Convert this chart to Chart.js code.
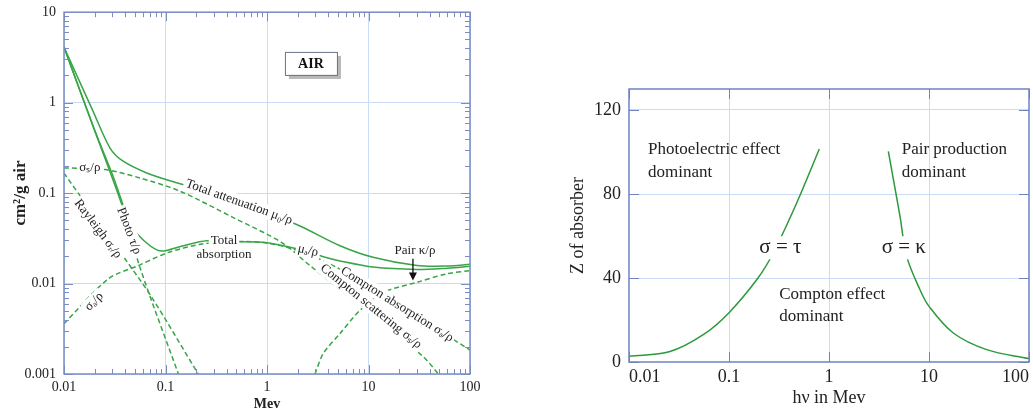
<!DOCTYPE html>
<html>
<head>
<meta charset="utf-8">
<script src="https://cdn.jsdelivr.net/npm/chart.js@4.4.1/dist/chart.umd.min.js"></script>
<style>
  html, body { margin: 0; padding: 0; background: #fff; }
  #wrap { position: relative; width: 1033px; height: 414px; overflow: hidden; }
  .box { position: absolute; top: 0; height: 414px; }
  #left { left: 0; width: 500px; }
  #right { left: 520px; width: 513px; }
</style>
</head>
<body>
<div id="wrap">
  <div class="box" id="left"><canvas id="graficoAire"></canvas></div>
  <div class="box" id="right"><canvas id="graficoZonas"></canvas></div>
</div>
<script>
// ---- panel izquierdo: coeficientes en aire (cm2/g) vs energia (MeV) ----
const decadasE = [0.01, 0.1, 1, 10, 100];
const decadasMu = [0.001, 0.01, 0.1, 1, 10];

const energiaAten = [0.01, 0.0194, 0.0284, 0.0383, 0.0653, 0.129, 0.54, 2.11, 5.24, 11.1, 30, 60, 100];
const muAten = [4.12, 0.796, 0.315, 0.225, 0.167, 0.130, 0.0817, 0.0433, 0.0262, 0.0195, 0.0158, 0.0156, 0.0163];

const energiaAbs = [0.01, 0.02, 0.03, 0.038, 0.0447, 0.0614, 0.082, 0.1, 0.15, 0.255, 0.542, 0.92, 1.45, 2.54, 3.59, 5.24, 11.1, 30, 60, 100];
const muAbs = [4.12, 0.50, 0.16, 0.075, 0.045, 0.0297, 0.0236, 0.0231, 0.0262, 0.0297, 0.029, 0.0286, 0.0262, 0.0225, 0.0198, 0.0178, 0.0152, 0.0143, 0.0148, 0.0155];

const energiaFoto = [0.01, 0.0194, 0.037, 0.056, 0.134];
const tauFoto = [4.12, 0.54, 0.0751, 0.0151, 0.001];

const energiaRay = [0.01, 0.040, 0.0731, 0.210];
const sigmaRay = [0.166, 0.0187, 0.00707, 0.001];

const energiaSs = [0.01, 0.0254, 0.056, 0.139, 0.466, 1.40, 2.65, 10.4, 34.7, 48.8];
const sigmaS = [0.19, 0.182, 0.147, 0.105, 0.0536, 0.0284, 0.0158, 0.0047, 0.00155, 0.001];

const energiaSa = [0.01, 0.0274, 0.054, 0.107, 0.228, 0.5, 1.0, 2.0, 4.86, 20.4, 100];
const sigmaA = [0.0036, 0.0113, 0.0158, 0.0221, 0.0273, 0.0292, 0.0280, 0.0232, 0.0151, 0.0057, 0.00184];

const energiaPar = [2.97, 3.59, 5.24, 8.24, 14.0, 29.9, 58.9, 100];
const kappaPar = [0.001, 0.00169, 0.0028, 0.00505, 0.0080, 0.0103, 0.0128, 0.0139];

// ---- panel derecho: Z del absorbente vs h nu ----
const ticksZ = [0, 40, 80, 120];
const energiaTau = [0.01, 0.0257, 0.0553, 0.1, 0.195, 0.277, 0.475, 0.80];
const zTau = [2.7, 5.0, 13.0, 23.5, 40, 51.9, 75.7, 101.4];
const energiaKappa = [3.92, 5.13, 5.98, 8.13, 10, 17.5, 37.7, 100];
const zKappa = [100.3, 69.3, 50.3, 34.4, 26.5, 13.8, 5.9, 1.6];

const serif = "'Liberation Serif', 'Times New Roman', serif";
const verdeIzq = '#38a547';
const verdeDer = '#2b9a39';
const rejilla = '#cadcf5';
const bordeAzul = '#7b8cc4';

function serie(xs, ys) {
    return xs.map((x, i) => ({ x: x, y: ys[i] }));
}
function esDecada(v) {
    const l = Math.log10(v);
    return Math.abs(l - Math.round(l)) < 1e-6;
}
function ticksLog(decadas) {
    const t = [];
    for (let i = 0; i < decadas.length - 1; i++) {
        for (let k = 1; k < 10; k++) t.push({ value: k * decadas[i] });
    }
    t.push({ value: decadas[decadas.length - 1] });
    return t;
}

// marco con marcas hacia adentro en los cuatro lados
function crearMarco(color, mayor, menor) {
    return {
        id: 'marco',
        afterDraw(chart) {
            const { ctx, chartArea: a, scales: { x, y } } = chart;
            ctx.save();
            ctx.strokeStyle = color;
            ctx.lineWidth = 1;
            ctx.beginPath();
            x.ticks.forEach(t => {
                const L = (x.type === 'linear' || esDecada(t.value)) ? mayor : menor;
                if (!L) return;
                const px = Math.round(x.getPixelForValue(t.value)) + 0.5;
                ctx.moveTo(px, a.bottom); ctx.lineTo(px, a.bottom - L);
                ctx.moveTo(px, a.top); ctx.lineTo(px, a.top + L);
            });
            y.ticks.forEach(t => {
                const L = (y.type === 'linear' || esDecada(t.value)) ? mayor : menor;
                if (!L) return;
                const py = Math.round(y.getPixelForValue(t.value)) + 0.5;
                ctx.moveTo(a.left, py); ctx.lineTo(a.left + L, py);
                ctx.moveTo(a.right, py); ctx.lineTo(a.right - L, py);
            });
            ctx.stroke();
            ctx.lineWidth = 1.5;
            ctx.strokeRect(a.left, a.top, a.width, a.height);
            ctx.restore();
        }
    };
}

// textos sobre las curvas (posicion en unidades de datos)
function crearEtiquetas(items, fuente, color, extra) {
    return {
        id: 'etiquetas',
        afterDatasetsDraw(chart) {
            const { ctx, scales: { x, y } } = chart;
            items.forEach(e => {
                const px = x.getPixelForValue(e.x);
                const py = y.getPixelForValue(e.y);
                ctx.save();
                ctx.translate(px, py);
                ctx.rotate((e.rot || 0) * Math.PI / 180);
                ctx.font = e.font || fuente;
                ctx.textAlign = e.align || 'center';
                ctx.textBaseline = 'middle';
                if (e.fondo) {
                    const w = ctx.measureText(e.t).width;
                    const h = parseInt(ctx.font, 10) || 13;
                    const x0 = e.align === 'left' ? 0 : -w / 2;
                    ctx.fillStyle = '#fff';
                    ctx.fillRect(x0 - 2, -h * 0.55, w + 4, h * 1.1);
                }
                ctx.fillStyle = color;
                ctx.fillText(e.t, 0, 0);
                ctx.restore();
            });
            if (extra) extra(chart);
        }
    };
}

document.addEventListener("DOMContentLoaded", function () {
    f_aire();
    f_zonas();
});

function f_aire() {
    const etiquetas = [
        { t: 'σₛ/ρ', x: 0.018, y: 0.193, fondo: true },
        { t: 'Rayleigh σᵣ/ρ', x: 0.0216, y: 0.0402, rot: 53, fondo: true },
        { t: 'Photo τ/ρ', x: 0.0437, y: 0.0382, rot: 69, fondo: true },
        { t: 'σₐ/ρ', x: 0.0198, y: 0.00634, rot: -45, fondo: true },
        { t: 'Total', x: 0.377, y: 0.0297, fondo: true },
        { t: 'absorption', x: 0.377, y: 0.0208 },
        { t: 'Total attenuation μ₀/ρ', x: 0.53, y: 0.0796, rot: 19.6, fondo: true },
        { t: 'μₐ/ρ', x: 2.54, y: 0.0231, rot: 12, fondo: true },
        { t: 'Compton absorption σₐ/ρ', x: 19.1, y: 0.00587, rot: 32, fondo: true },
        { t: 'Compton scattering σₛ/ρ', x: 10.6, y: 0.00558, rot: 39, fondo: true },
        { t: 'Pair κ/ρ', x: 28.7, y: 0.0231 }
    ];

    // flecha de "Pair" y recuadro "AIR"
    const extra = chart => {
        const { ctx, scales: { x, y } } = chart;
        const ax = x.getPixelForValue(27.4);
        const y0 = y.getPixelForValue(0.0188), y1 = y.getPixelForValue(0.0108);
        ctx.save();
        ctx.strokeStyle = '#111';
        ctx.fillStyle = '#111';
        ctx.lineWidth = 1.3;
        ctx.beginPath(); ctx.moveTo(ax, y0); ctx.lineTo(ax, y1 - 6); ctx.stroke();
        ctx.beginPath(); ctx.moveTo(ax - 4, y1 - 8); ctx.lineTo(ax + 4, y1 - 8); ctx.lineTo(ax, y1); ctx.closePath(); ctx.fill();

        const bx = x.getPixelForValue(2.71), by = y.getPixelForValue(2.75);
        ctx.fillStyle = '#b8b8b8';
        ctx.fillRect(bx - 26 + 4, by - 11 + 4, 52, 23);
        ctx.fillStyle = '#fff';
        ctx.fillRect(bx - 26, by - 11, 52, 23);
        ctx.strokeStyle = '#6a7390';
        ctx.lineWidth = 1;
        ctx.strokeRect(bx - 26 + 0.5, by - 11 + 0.5, 52, 23);
        ctx.fillStyle = '#111';
        ctx.font = 'bold 14px ' + serif;
        ctx.textAlign = 'center';
        ctx.textBaseline = 'middle';
        ctx.fillText('AIR', bx, by + 1);
        ctx.restore();
    };

    const rayas = [5, 3];
    new Chart(document.getElementById('graficoAire'), {
        type: 'line',
        data: {
            datasets: [
                { label: 'Total attenuation', data: serie(energiaAten, muAten), borderColor: verdeIzq },
                { label: 'Total absorption', data: serie(energiaAbs, muAbs), borderColor: verdeIzq },
                {
                    label: 'Photo', data: serie(energiaFoto, tauFoto), borderColor: verdeIzq,
                    segment: { borderDash: c => c.p0.parsed.x >= 0.036 ? rayas : undefined }
                },
                { label: 'Rayleigh', data: serie(energiaRay, sigmaRay), borderColor: verdeIzq, borderDash: rayas },
                { label: 'Compton scattering', data: serie(energiaSs, sigmaS), borderColor: verdeIzq, borderDash: rayas },
                { label: 'Compton absorption', data: serie(energiaSa, sigmaA), borderColor: verdeIzq, borderDash: rayas },
                { label: 'Pair', data: serie(energiaPar, kappaPar), borderColor: verdeIzq, borderDash: rayas }
            ]
        },
        options: {
            responsive: true,
            maintainAspectRatio: false,
            animation: false,
            layout: { padding: { top: 8, right: 30, left: 0, bottom: 0 } },
            elements: {
                point: { radius: 0 },
                line: { borderWidth: 1.5, tension: 0.3, fill: false }
            },
            plugins: { legend: { display: false }, tooltip: { enabled: false } },
            scales: {
                x: {
                    type: 'logarithmic', min: 0.01, max: 100,
                    afterBuildTicks: s => { s.ticks = ticksLog(decadasE); },
                    afterFit: s => { s.height = 40; },
                    border: { display: false },
                    grid: {
                        drawTicks: false,
                        color: c => (c.tick && esDecada(c.tick.value)) ? rejilla : 'transparent'
                    },
                    ticks: {
                        autoSkip: false, maxRotation: 0, padding: 5, color: '#222',
                        font: { family: serif, size: 14 },
                        callback: v => esDecada(v) ? String(+v.toPrecision(3)) : ''
                    },
                    title: {
                        display: true, text: 'Mev', color: '#222',
                        font: { family: serif, size: 14, weight: 'bold' },
                        padding: { top: 0, bottom: 1 }
                    }
                },
                y: {
                    type: 'logarithmic', min: 0.001, max: 10,
                    afterBuildTicks: s => { s.ticks = ticksLog(decadasMu); },
                    afterFit: s => { s.width = 64; },
                    border: { display: false },
                    grid: {
                        drawTicks: false,
                        color: c => (c.tick && esDecada(c.tick.value)) ? rejilla : 'transparent'
                    },
                    ticks: {
                        autoSkip: false, padding: 8, color: '#222',
                        font: { family: serif, size: 14, lineHeight: 0.6 },
                        callback: v => esDecada(v) ? String(+v.toPrecision(3)) : ''
                    },
                    title: {
                        display: true, text: 'cm²/g air', color: '#222',
                        font: { family: serif, size: 17, weight: 'bold' },
                        padding: { top: 10, bottom: 0 }
                    }
                }
            }
        },
        plugins: [crearEtiquetas(etiquetas, '13px ' + serif, '#222', extra), crearMarco(bordeAzul, 9, 5)]
    });
}

function f_zonas() {
    const fuente = '17px ' + serif;
    const griega = '21px ' + serif;
    const etiquetas = [
        { t: 'Photoelectric effect', x: 0.0155, y: 101, align: 'left' },
        { t: 'dominant', x: 0.0155, y: 90, align: 'left' },
        { t: 'Pair production', x: 5.33, y: 101, align: 'left' },
        { t: 'dominant', x: 5.33, y: 90, align: 'left' },
        { t: 'σ = τ', x: 0.201, y: 54.4, align: 'left', fondo: true, font: griega },
        { t: 'σ = κ', x: 3.36, y: 54.4, align: 'left', fondo: true, font: griega },
        { t: 'Compton effect', x: 0.318, y: 32, align: 'left' },
        { t: 'dominant', x: 0.318, y: 21.7, align: 'left' }
    ];

    new Chart(document.getElementById('graficoZonas'), {
        type: 'line',
        data: {
            datasets: [
                { label: 'σ = τ', data: serie(energiaTau, zTau), borderColor: verdeDer },
                { label: 'σ = κ', data: serie(energiaKappa, zKappa), borderColor: verdeDer }
            ]
        },
        options: {
            responsive: true,
            maintainAspectRatio: false,
            animation: false,
            layout: { padding: { top: 89, right: 4, left: 0, bottom: 0 } },
            elements: {
                point: { radius: 0 },
                line: { borderWidth: 1.5, tension: 0.35, fill: false }
            },
            plugins: { legend: { display: false }, tooltip: { enabled: false } },
            scales: {
                x: {
                    type: 'logarithmic', min: 0.01, max: 100,
                    afterBuildTicks: s => { s.ticks = decadasE.map(v => ({ value: v })); },
                    afterFit: s => { s.height = 52; },
                    border: { display: false },
                    grid: {
                        drawTicks: false,
                        color: c => (c.tick && c.tick.value > 0.01 && c.tick.value < 100) ? rejilla : 'transparent'
                    },
                    ticks: {
                        autoSkip: false, maxRotation: 0, padding: 4, color: '#222', align: 'inner',
                        font: { family: serif, size: 18 },
                        callback: v => String(+v.toPrecision(3))
                    },
                    title: {
                        display: true, text: 'hν in Mev', color: '#222',
                        font: { family: serif, size: 18 },
                        padding: { top: 0, bottom: 5 }
                    }
                },
                y: {
                    type: 'linear', min: 0, max: 130,
                    afterBuildTicks: s => { s.ticks = ticksZ.map(v => ({ value: v })); },
                    afterFit: s => { s.width = 109; },
                    border: { display: false },
                    grid: {
                        drawTicks: false,
                        color: c => (c.tick && c.tick.value > 0) ? rejilla : 'transparent'
                    },
                    ticks: {
                        autoSkip: false, padding: 8, color: '#222',
                        font: { family: serif, size: 18 }
                    },
                    title: {
                        display: true, text: 'Z of absorber', color: '#222',
                        font: { family: serif, size: 18 },
                        padding: { top: 47, bottom: 0 }
                    }
                }
            }
        },
        plugins: [crearEtiquetas(etiquetas, fuente, '#222'), crearMarco('#6f82bf', 10, 0)]
    });
}
</script>
</body>
</html>
